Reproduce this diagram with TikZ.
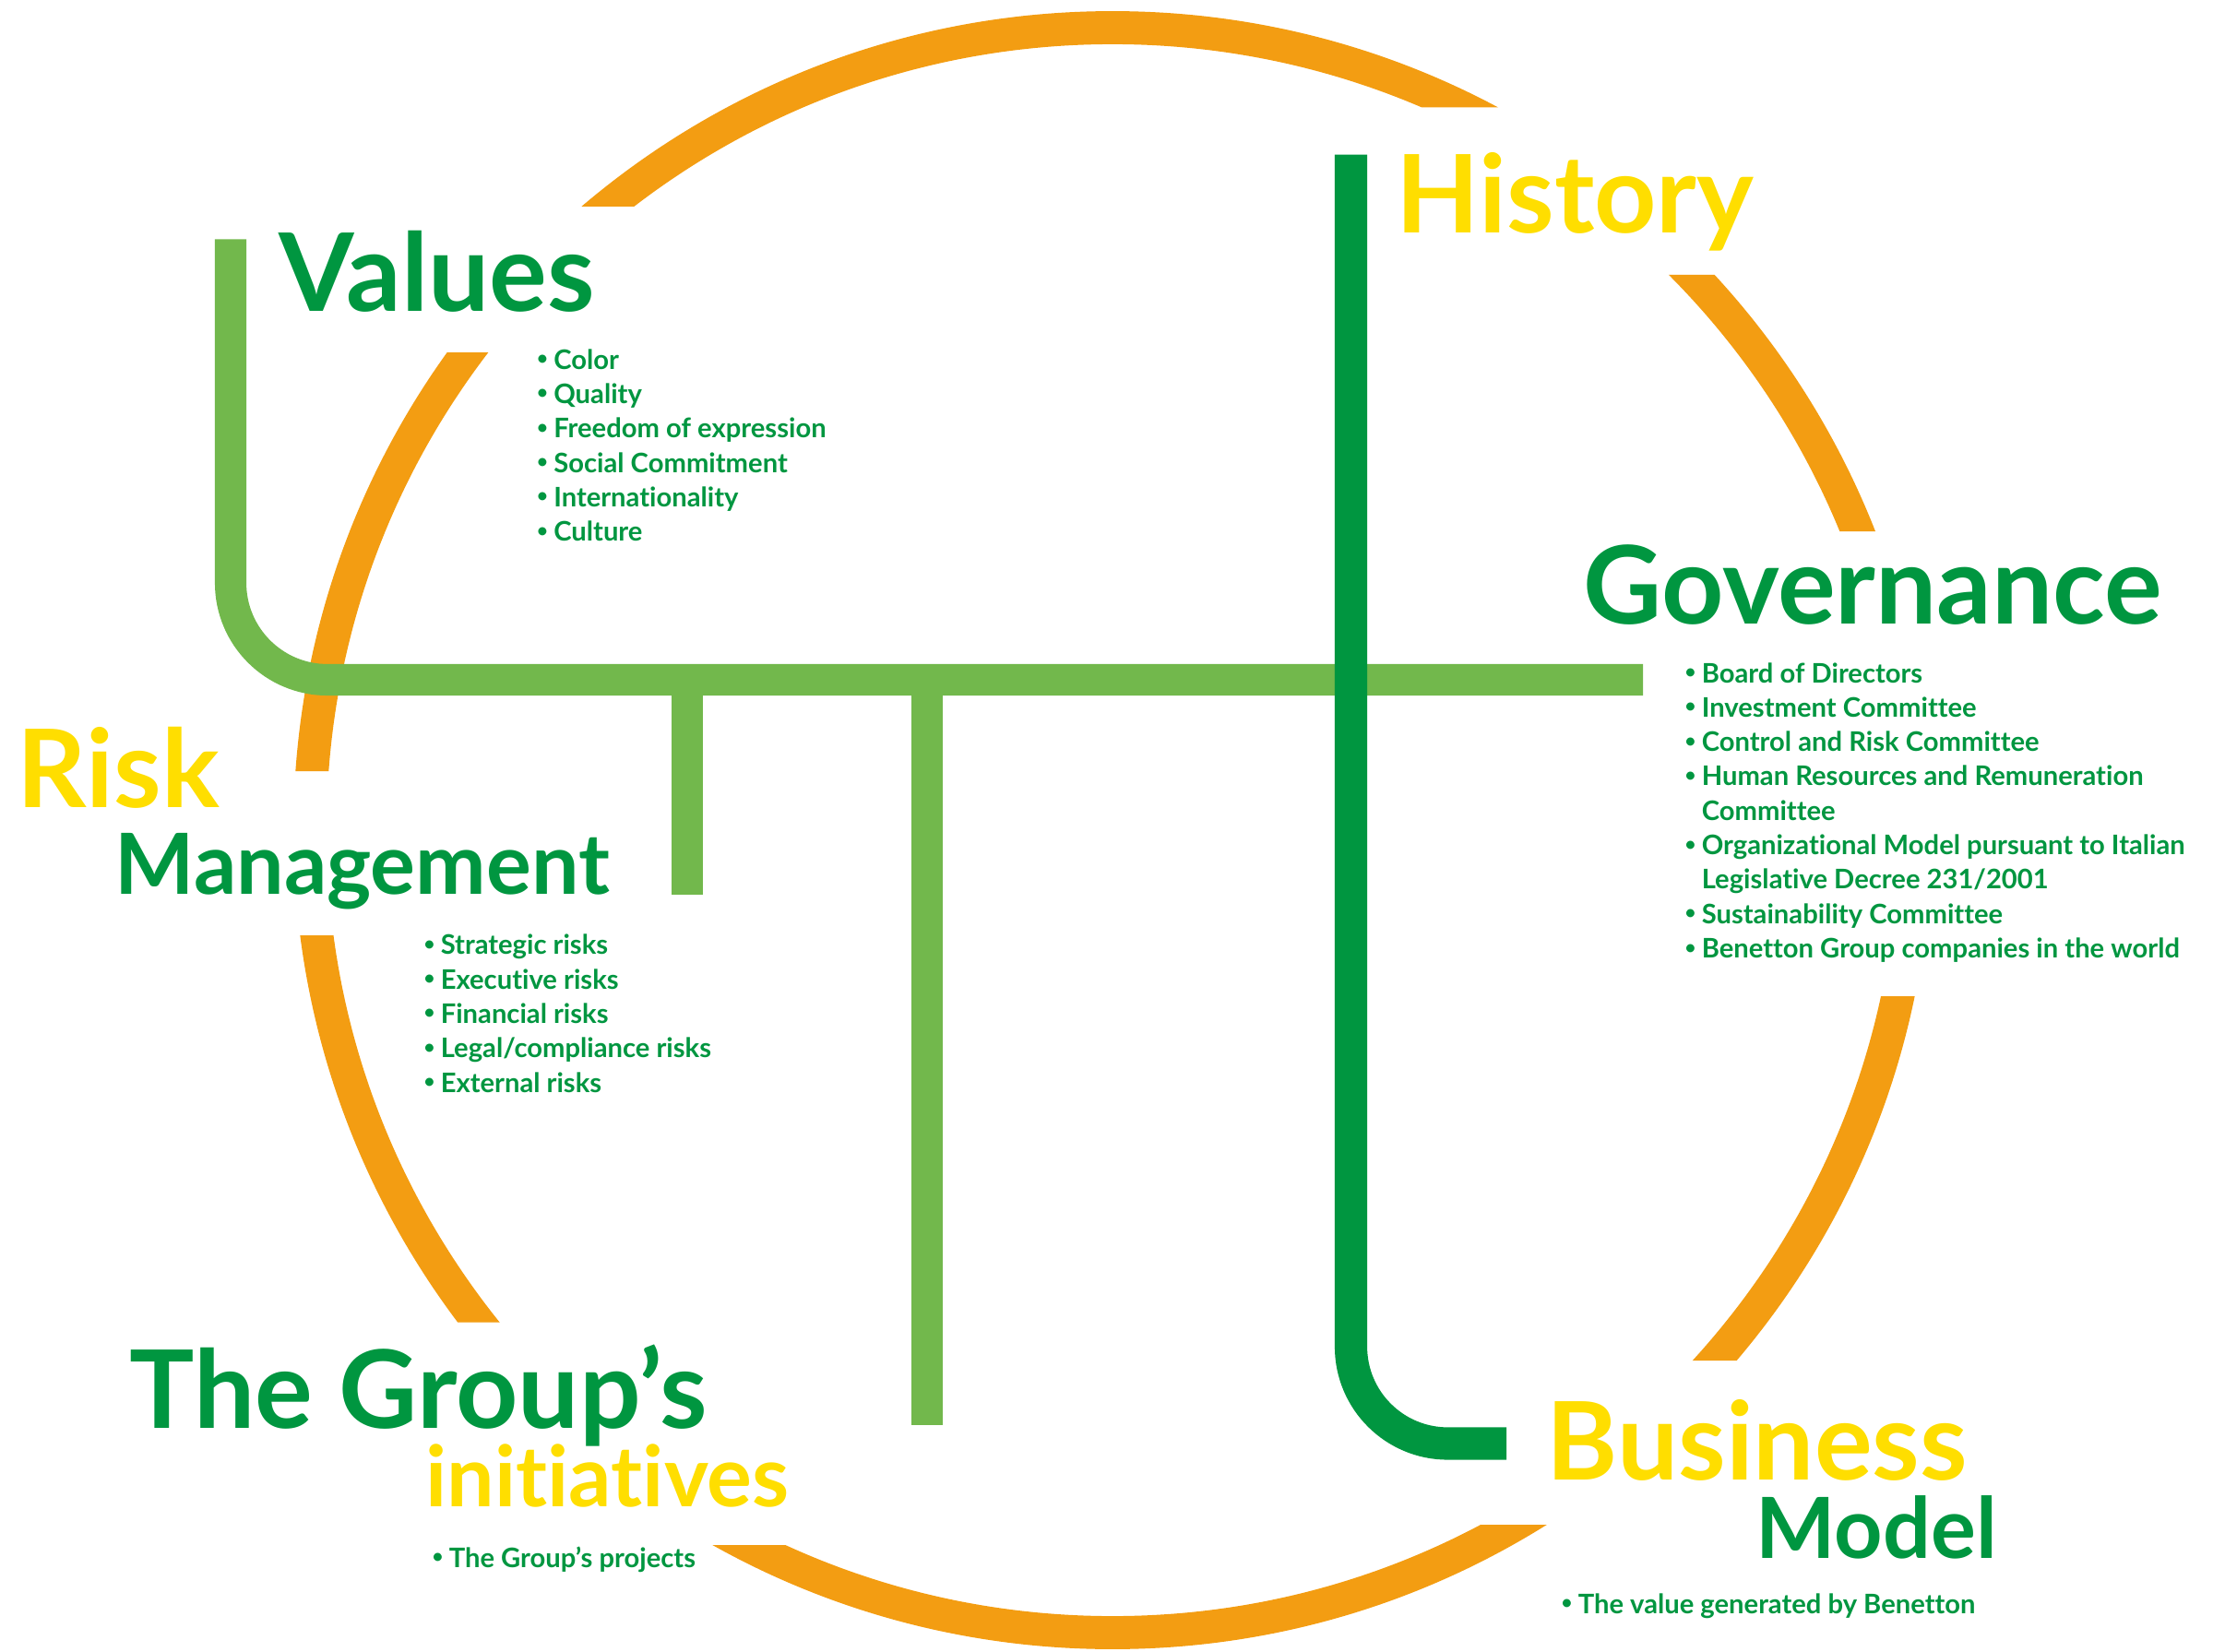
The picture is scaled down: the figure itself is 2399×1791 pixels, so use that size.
\documentclass[tikz,border=0pt]{standalone}
\usepackage{fontspec}
\setmainfont{Lato}[Ligatures=NoCommon]
\usepackage{tikz}

\definecolor{ringorange}{RGB}{243,157,18}
\definecolor{lightgreen}{RGB}{114,184,76}
\definecolor{darkgreen}{RGB}{0,150,64}
\definecolor{titleyellow}{RGB}{255,222,0}

\newcommand{\bulletitem}{\makebox[0.62em][l]{\raisebox{0.3ex}{\fontsize{5.8}{6}\selectfont•}}}
\newcommand{\bulletgap}{\hspace*{0.62em}}

\tikzset{
  ring/.style={line width=10.2pt, ringorange},
  branch/.style={line width=9.7pt, lightgreen},
  stem/.style={line width=10pt, darkgreen},
  bigtitle/.style={inner sep=0pt, anchor=base west, font=\fontsize{33.4}{36}\selectfont\bfseries},
  subtitle/.style={inner sep=0pt, anchor=base west, font=\fontsize{26}{28}\selectfont\bfseries},
  itemlist/.style={inner sep=0pt, anchor=base west, align=left, text=darkgreen, font=\fontsize{8.3}{10.61}\selectfont\bfseries},
}

\begin{document}
\begin{tikzpicture}[x=0.01cm, y=-0.01cm]
    \useasboundingbox (0,0) rectangle (2399,1791);
    % the ring, cut in six pieces
    \begin{scope}
        \clip (0,0) rectangle (1206,224) (0,382) rectangle (1206,836)
              (0,1014) rectangle (1206,1433.5) (0,1675) rectangle (1206,1791)
              (1206,0) rectangle (2399,116.5) (1206,298) rectangle (2399,576)
              (1206,1080) rectangle (2399,1475) (1206,1653) rectangle (2399,1791);
        \draw[ring] (1206,900) circle (870);
    \end{scope}

    % light green branch
    \coordinate (valtop) at (250,259.5);
    \coordinate (govend) at (1781,737);
    \coordinate (riskfoot) at (745,969.6);
    \coordinate (groupfoot) at (1005,1545);
    \draw[branch, rounded corners=1.05cm] (valtop) |- (govend);
    \draw[branch] (riskfoot |- govend) -- (riskfoot);
    \draw[branch] (groupfoot |- govend) -- (groupfoot);

    % dark green stem
    \coordinate (histtop) at (1464.5,167.6);
    \coordinate (busend) at (1633,1565);
    \draw[stem, rounded corners=1.05cm] (histtop) |- (busend);

    % titles
    \node[bigtitle, text=darkgreen] (values) at (302,337.5) {Values};
    \node[bigtitle, text=titleyellow] (history) at (1513,252.6) {History};
    \node[bigtitle, text=darkgreen] (governance) at (1716,676) {Governance};
    \node[bigtitle, text=titleyellow] (risk) at (18,875.5) {Risk};
    \node[subtitle, text=darkgreen] (management) at (124,969.6) {Management};
    \node[bigtitle, text=darkgreen] (group) at (140,1548) {The Group’s};
    \node[subtitle, text=titleyellow] (initiatives) at (461,1633) {initiatives};
    \node[bigtitle, text=titleyellow] (business) at (1676,1604.5) {Business};
    \node[subtitle, text=darkgreen] (model) at (1903,1689) {Model};

    % lists (anchored at the baseline of their last line)
    \node[itemlist] (valuelist) at (581.5,586.7) {\bulletitem Color\\ \bulletitem Quality\\
        \bulletitem Freedom of expression\\ \bulletitem Social Commitment\\
        \bulletitem Internationality\\ \bulletitem Culture};
    \node[itemlist] (govlist) at (1826,1038.5) {\bulletitem Board of Directors\\
        \bulletitem Investment Committee\\ \bulletitem Control and Risk Committee\\
        \bulletitem Human Resources and Remuneration\\ \bulletgap Committee\\
        \bulletitem Organizational Model pursuant to Italian\\
        \bulletgap Legislative Decree 231/2001\\ \bulletitem Sustainability Committee\\
        \bulletitem Benetton Group companies in the world};
    \node[itemlist] (risklist) at (459,1184) {\bulletitem Strategic risks\\
        \bulletitem Executive risks\\ \bulletitem Financial risks\\
        \bulletitem Legal/compliance risks\\ \bulletitem External risks};
    \node[itemlist] (grouplist) at (468,1699) {\bulletitem The Group’s projects};
    \node[itemlist] (buslist) at (1692,1749) {\bulletitem The value generated by Benetton};
\end{tikzpicture}
\end{document}
